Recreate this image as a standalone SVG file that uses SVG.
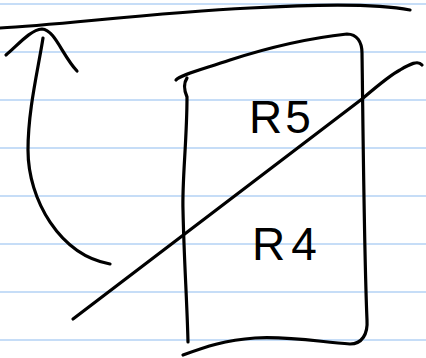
<svg xmlns="http://www.w3.org/2000/svg" width="426" height="358" viewBox="0 0 426 358">
  <style>
    .rule { stroke: #c6ddf7; stroke-width: 2; }
    .ink { fill: none; stroke: #000; stroke-width: 3.2; stroke-linecap: round; stroke-linejoin: round; }
    .label { font-family: "Liberation Sans", "DejaVu Sans", sans-serif; font-size: 46px; fill: #000; }
  </style>
  <rect width="426" height="358" fill="#ffffff"/>
  <g id="paper">
    <line class="rule" x1="0" y1="4" x2="426" y2="4"/>
    <line class="rule" x1="0" y1="52" x2="426" y2="52"/>
    <line class="rule" x1="0" y1="100" x2="426" y2="100"/>
    <line class="rule" x1="0" y1="148" x2="426" y2="148"/>
    <line class="rule" x1="0" y1="196" x2="426" y2="196"/>
    <line class="rule" x1="0" y1="244" x2="426" y2="244"/>
    <line class="rule" x1="0" y1="292" x2="426" y2="292"/>
    <line class="rule" x1="0" y1="340" x2="426" y2="340"/>
  </g>
  <g id="top-line">
    <path class="ink" d="M0,28 C60,25 150,13 250,8 C320,4 380,4 410,10"/>
  </g>
  <g id="box">
    <path class="ink" d="M176,80 C180,75 200,70 230,60 C270,47 310,38 347,34 C357,34 362,42 362,53 C363,120 364,250 367,320 C368,334 362,344 350,344 C320,342 290,336 255,338 C225,340 205,347 183,355"/>
    <path class="ink" d="M187,78 C183,84 184,90 187,97 C187,140 182,180 183,210 C184,260 187,300 188,342"/>
    <text class="label" x="249" y="133" letter-spacing="3">R5</text>
    <text class="label" x="252" y="260" letter-spacing="6">R4</text>
  </g>
  <g id="connectors">
    <path class="ink" d="M73,319 L362,99 C375,88 390,75 400,70 C410,64 418,60 422,65"/>
    <path class="ink" d="M110,264 C60,255 28,200 28,150 C28,110 38,70 43,38"/>
    <path class="ink" d="M6,55 C18,45 30,30 42,29 C55,30 62,55 77,71"/>
  </g>
</svg>
